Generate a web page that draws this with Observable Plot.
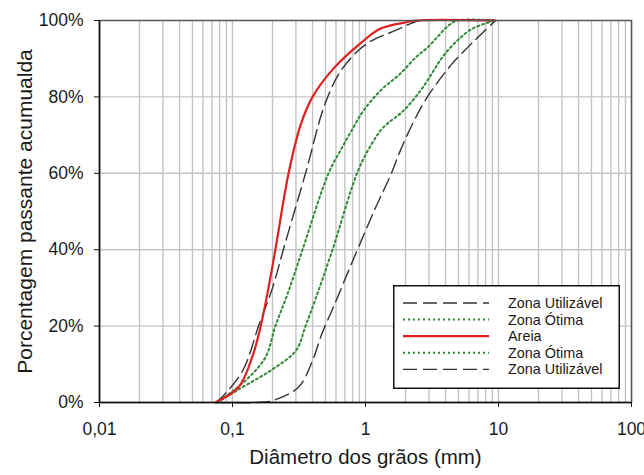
<!DOCTYPE html>
<html>
<head>
<meta charset="utf-8">
<script src="https://cdn.jsdelivr.net/npm/d3@7"></script>
<script src="https://cdn.jsdelivr.net/npm/@observablehq/plot@0.6"></script>
<style>
  html, body { margin: 0; padding: 0; background: #fff; }
  #wrap { position: relative; width: 644px; height: 475px; font-family: "Liberation Sans", Arial, sans-serif; }
  #legend { position: absolute; left: 393px; top: 285px; }
</style>
</head>
<body>
<div id="wrap"></div>
<script>
// ---- data ----
const xTitle = "Diâmetro dos grãos (mm)";
const yTitle = "Porcentagem passante acumualda";
const xTickValues = [0.01, 0.1, 1, 10, 100];
const xTickLabels = ["0,01", "0,1", "1", "10", "100"];
const yTickValues = [0, 20, 40, 60, 80, 100];
const yTickLabels = ["0%", "20%", "40%", "60%", "80%", "100%"];

const areiaD = [0.074, 0.111, 0.141, 0.163, 0.183, 0.21, 0.264, 0.324, 0.40, 0.574, 0.916, 1.30, 2.07, 2.4, 9.5];
const areiaP = [0, 4, 12, 20, 28.5, 40, 60, 72.5, 80, 87.4, 94, 97.9, 99.6, 100, 100];

const utilInfD = [0.075, 0.084, 0.12, 0.157, 0.2, 0.241, 0.354, 0.5, 0.67, 1.03, 1.68, 2.18, 2.6, 9.5];
const utilInfP = [0, 1.5, 8.5, 20, 30, 40, 60, 78.5, 87.4, 94, 97.4, 99.2, 100, 100];

const otimaSupD = [0.075, 0.088, 0.132, 0.178, 0.21, 0.26, 0.336, 0.527, 0.649, 0.81, 0.966, 1.30, 1.83, 2.38, 2.92, 3.54, 4.21, 4.9, 9.5];
const otimaSupP = [0, 1.5, 6.5, 12, 20, 28.5, 40, 60, 66, 72, 76.4, 81.7, 86.1, 90.3, 92.9, 96, 98.7, 100, 100];

const otimaInfD = [0.077, 0.111, 0.196, 0.30, 0.354, 0.42, 0.565, 0.88, 1.15, 1.36, 1.93, 2.6, 3.19, 3.86, 4.92, 6.38, 9.5];
const otimaInfP = [0, 3.4, 8.5, 13.6, 20, 27, 40, 60.7, 68.5, 72, 76.4, 81.7, 86.4, 90.8, 94.8, 97.9, 100];

const utilSupD = [0.075, 0.15, 0.2, 0.313, 0.40, 0.47, 0.574, 0.80, 1.19, 1.54, 1.83, 2.30, 2.92, 4.36, 5.85, 6.95, 9.5];
const utilSupP = [0, 0, 0.5, 4, 11, 18, 25, 37, 51, 59.4, 66, 73.5, 80, 88.2, 92.9, 95.5, 100];

const legendLabels = ["Zona Utilizável", "Zona Ótima", "Areia", "Zona Ótima", "Zona Utilizável"];

// ---- styles ----
const RED = "#e02020";
const GREEN = "#2f8a34";
const DARK = "#333333";
const DASH = "14,6";
const DOT = "2,3";

const toRows = (ds, ps) => ds.map((d, i) => ({d, p: ps[i]}));

const series = [
  {rows: toRows(utilSupD, utilSupP), stroke: DARK, dash: DASH, width: 1.4},
  {rows: toRows(otimaInfD, otimaInfP), stroke: GREEN, dash: DOT, width: 2},
  {rows: toRows(otimaSupD, otimaSupP), stroke: GREEN, dash: DOT, width: 2},
  {rows: toRows(utilInfD, utilInfP), stroke: DARK, dash: DASH, width: 1.4},
  {rows: toRows(areiaD, areiaP), stroke: RED, dash: null, width: 2.2}
];

// log grid values (1..9 × decades)
const gridVals = [];
for (const e of [-2, -1, 0, 1]) for (let m = 1; m <= 9; m++) gridVals.push(m * Math.pow(10, e));
gridVals.push(100);

const xFmt = d => xTickLabels[xTickValues.indexOf(d)];
const yFmt = d => yTickLabels[yTickValues.indexOf(d)];

const chart = Plot.plot({
  width: 644,
  height: 475,
  marginLeft: 99,
  marginRight: 13,
  marginTop: 20,
  marginBottom: 73,
  style: {fontFamily: "Liberation Sans, Arial, sans-serif", fontSize: "17.5px", color: "#1a1a1a", background: "#fff", overflow: "visible"},
  x: {type: "log", domain: [0.01, 100]},
  y: {domain: [0, 100]},
  marks: [
    Plot.gridX(gridVals, {stroke: "#c4c4c4", strokeOpacity: 1, strokeWidth: 1.4}),
    Plot.gridY([20, 40, 60, 80], {stroke: "#c4c4c4", strokeOpacity: 1, strokeWidth: 1.4}),
    ...series.map(s => Plot.line(s.rows, {
      x: "d", y: "p", curve: "catmull-rom",
      stroke: s.stroke, strokeWidth: s.width,
      strokeDasharray: s.dash || undefined
    })),
    Plot.frame({stroke: "#555", strokeWidth: 1.5}),
    Plot.ruleX([0.01], {stroke: "#111", strokeWidth: 1.5}),
    Plot.ruleY([0], {stroke: "#111", strokeWidth: 1.5}),
    Plot.axisX({ticks: xTickValues, tickFormat: xFmt, tickSize: 5, tickPadding: 15, label: null, stroke: "#111"}),
    Plot.axisY({ticks: yTickValues, tickFormat: yFmt, tickSize: 5, tickPadding: 11, label: null, stroke: "#111"}),
    Plot.text([xTitle], {frameAnchor: "bottom", dy: 61, fontSize: 20.5, textAnchor: "middle", fill: "#1a1a1a"}),
    Plot.text([yTitle], {frameAnchor: "left", dx: -74, rotate: -90, fontSize: 21, textAnchor: "middle", fill: "#1a1a1a"})
  ]
});
document.getElementById("wrap").appendChild(chart);

// ---- legend overlay ----
const legendStyles = [
  {stroke: DARK, dash: DASH, width: 1.4},
  {stroke: GREEN, dash: DOT, width: 2},
  {stroke: RED, dash: null, width: 2.2},
  {stroke: GREEN, dash: DOT, width: 2},
  {stroke: DARK, dash: DASH, width: 1.4}
];
const lw = 227, lh = 104;
const lg = d3.create("svg").attr("id", "legend").attr("width", lw).attr("height", lh)
  .style("font-family", "Liberation Sans, Arial, sans-serif");
lg.append("rect").attr("x", 0.75).attr("y", 0.75).attr("width", lw - 1.5).attr("height", lh - 1.5)
  .attr("fill", "#fff").attr("stroke", "#111").attr("stroke-width", 1.5);
legendLabels.forEach((lab, i) => {
  const yy = 18 + i * 16.6;
  const st = legendStyles[i];
  lg.append("line").attr("x1", 10).attr("x2", 96).attr("y1", yy).attr("y2", yy)
    .attr("stroke", st.stroke).attr("stroke-width", st.width)
    .attr("stroke-dasharray", st.dash || null);
  lg.append("text").attr("x", 115).attr("y", yy).attr("dy", "0.35em")
    .attr("font-size", 14.4).attr("fill", "#1a1a1a").text(lab);
});
document.getElementById("wrap").appendChild(lg.node());
</script>
</body>
</html>
